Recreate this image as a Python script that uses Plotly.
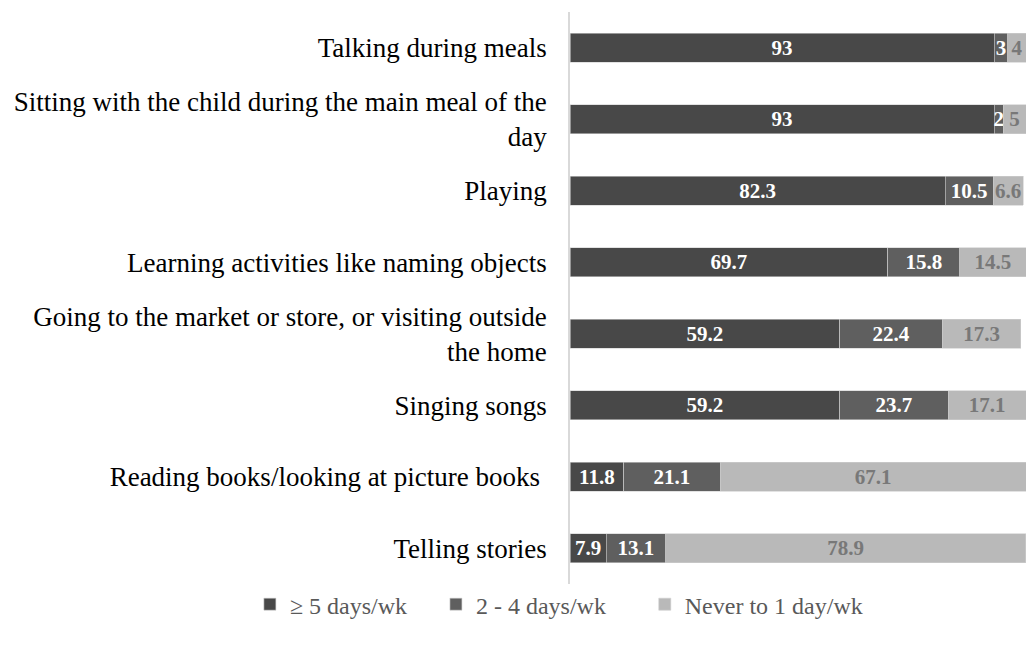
import plotly.graph_objects as go

categories = [
    "Talking during meals",
    "Sitting with the child during the main meal of the<br>day",
    "Playing",
    "Learning activities like naming objects",
    "Going to the market or store, or visiting outside<br>the home",
    "Singing songs",
    "Reading books/looking at picture books ",
    "Telling stories",
]
series_names = ["≥ 5 days/wk", "2 - 4 days/wk", "Never to 1 day/wk"]
five_plus = [93, 93, 82.3, 69.7, 59.2, 59.2, 11.8, 7.9]
two_four = [3, 2, 10.5, 15.8, 22.4, 23.7, 21.1, 13.1]
never_one = [4, 5, 6.6, 14.5, 17.3, 17.1, 67.1, 78.9]

FONT = "Times New Roman, Liberation Serif, DejaVu Serif, serif"
colors = ["#484848", "#5f5f5f", "#b9b9b9"]
text_colors = ["white", "white", "#787878"]
legend_ids = ["legend", "legend2", "legend3"]
legend_x = [-0.702, -0.294, 0.164]

fig = go.Figure()
for name, vals, c, tc, lid in zip(series_names, [five_plus, two_four, never_one], colors, text_colors, legend_ids):
    fig.add_trace(go.Bar(
        y=categories, x=vals, name=name, orientation="h",
        marker=dict(color=c, line=dict(color="#cfcfcf", width=0.6)),
        text=[f"{v:g}" for v in vals], textposition="inside",
        insidetextanchor="middle", textangle=0,
        textfont=dict(family=FONT, size=21, color=tc, weight="bold"),
        hoverinfo="skip", legend=lid,
    ))

legend_common = dict(orientation="h", xref="paper", yref="paper",
                     xanchor="left", y=-0.036, yanchor="middle",
                     font=dict(family=FONT, size=24, color="#595959"),
                     itemwidth=30, bgcolor="rgba(0,0,0,0)")

fig.update_layout(
    barmode="stack", bargap=0.6,
    width=1027, height=647,
    margin=dict(l=570, r=1, t=12, b=63),
    plot_bgcolor="white", paper_bgcolor="white",
    font=dict(family=FONT, size=27, color="#000000"),
    uniformtext=dict(minsize=21, mode="show"),
    legend=dict(legend_common, x=legend_x[0]),
    legend2=dict(legend_common, x=legend_x[1]),
    legend3=dict(legend_common, x=legend_x[2]),
    showlegend=True,
)
fig.update_xaxes(range=[0, 100], showgrid=False, zeroline=False, showticklabels=False, showline=False)
fig.update_yaxes(autorange="reversed", showgrid=False, showline=True, linecolor="#d9d9d9", linewidth=1.5,
                 ticks="", ticklabelstandoff=16, tickfont=dict(family=FONT, size=27, color="#000000"))

fig.write_html("out.html")
